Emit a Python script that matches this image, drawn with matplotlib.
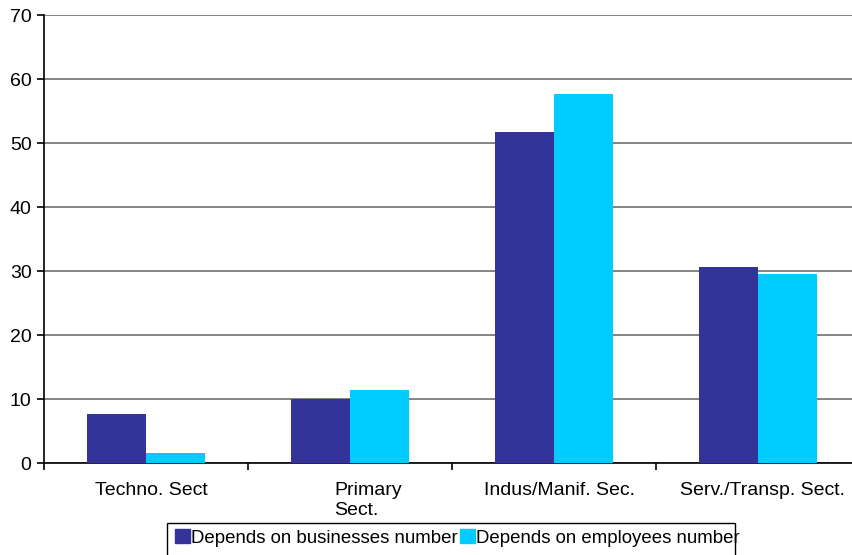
import matplotlib.pyplot as plt
from matplotlib.patches import Rectangle
import matplotlib.transforms as mtransforms
import numpy as np

plt.rcParams['font.family'] = ['Liberation Sans', 'DejaVu Sans']

# data
categories = ['Techno. Sect', 'Primary\nSect.', 'Indus/Manif. Sec.', 'Serv./Transp. Sect.']
businesses = [7.7, 10.0, 51.7, 30.6]
employees = [1.6, 11.4, 57.6, 29.5]
series_names = ['Depends on businesses number', 'Depends on employees number']
colors = ['#333399', '#00CCFF']

fig = plt.figure(figsize=(8.52, 5.55), dpi=100)
ax = fig.add_axes([44 / 852, 1 - 463 / 555, 816 / 852, 448 / 555])

x = np.arange(len(categories))
w = 0.29
ax.bar(x - w / 2, businesses, w, color=colors[0], zorder=3)
ax.bar(x + w / 2, employees, w, color=colors[1], zorder=3)

ax.set_xlim(-0.5, len(categories) - 0.5)
ax.set_ylim(0, 70)
ax.set_yticks(range(0, 71, 10))
ax.yaxis.grid(True, color='#707070', linewidth=1.2, zorder=0)
for s in ['top', 'right']:
    ax.spines[s].set_visible(False)
ax.spines['left'].set_linewidth(1.2)
ax.spines['bottom'].set_linewidth(1.2)
ax.tick_params(axis='y', labelsize=14, length=5, width=1.2, direction='out', pad=4)

# category boundaries get the ticks, labels go in between
ax.set_xticks(np.arange(-0.5, len(categories), 1.0))
ax.set_xticklabels([])
ax.tick_params(axis='x', length=5, width=1.2, direction='out')
blend = mtransforms.blended_transform_factory(ax.transData, ax.transAxes)
for i, c in enumerate(categories):
    if i == 1:
        ax.text(i, -0.043, c, ha='left', va='top', fontsize=14, multialignment='left',
                transform=blend + mtransforms.ScaledTranslation(-16 / 100, 0, fig.dpi_scale_trans))
    else:
        ax.text(i, -0.043, c, ha='center', va='top', fontsize=14,
                transform=blend + mtransforms.ScaledTranslation(5 / 100, 0, fig.dpi_scale_trans))

# legend: entries without frame, box drawn by hand so it can be tight and cut at the bottom
handles = [Rectangle((0, 0), 1, 1, color=c) for c in colors]
fig.legend(handles, series_names, loc='upper left', bbox_to_anchor=(175 / 852, 1 - 529 / 555),
           ncol=2, fontsize=13.4, frameon=False,
           handlelength=0.8, handleheight=0.8, handletextpad=0.05, columnspacing=0.15,
           borderpad=0, borderaxespad=0)
fig.patches.append(Rectangle((167 / 852, -0.02), (735 - 167) / 852, (555 - 523) / 555 + 0.02,
                             transform=fig.transFigure, fill=False, edgecolor='black', linewidth=1.0))

fig.savefig('out.png', dpi=100)
